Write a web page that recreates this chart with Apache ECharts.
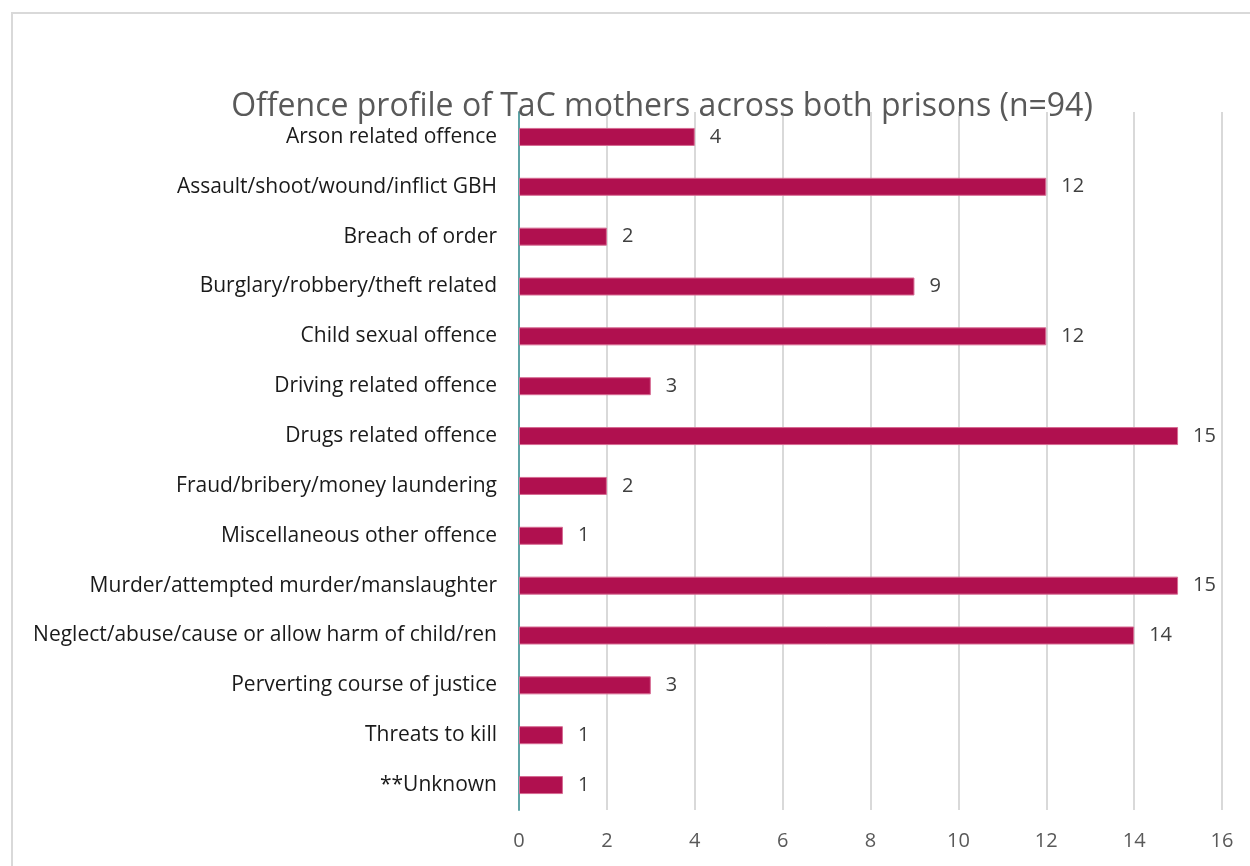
<!DOCTYPE html>
<html style="height: 100%">
<head>
    <meta charset="utf-8" />
    <title>Offence profile</title>
    <script type="text/javascript" src="https://cdn.jsdelivr.net/npm/echarts@6/dist/echarts.min.js"></script>
</head>
<body style="height: 100%; margin: 0; background: #fff">
    <div id="container" style="width: 1250px; height: 866px"></div>
</body>
</html>
<script type="text/javascript">
    // categories listed top to bottom as in the picture
    var offences = [
        'Arson related offence',
        'Assault/shoot/wound/inflict GBH',
        'Breach of order',
        'Burglary/robbery/theft related',
        'Child sexual offence',
        'Driving related offence',
        'Drugs related offence',
        'Fraud/bribery/money laundering',
        'Miscellaneous other offence',
        'Murder/attempted murder/manslaughter',
        'Neglect/abuse/cause or allow harm of child/ren',
        'Perverting course of justice',
        'Threats to kill',
        '**Unknown'
    ];
    var counts = [4, 12, 2, 9, 12, 3, 15, 2, 1, 15, 14, 3, 1, 1];

    var dom = document.getElementById("container");
    var myChart = echarts.init(dom);
    var font = 'Open Sans';

    var option = {
        backgroundColor: '#fff',
        animation: false,
        graphic: [{
            type: 'rect',
            shape: { x: 12, y: 13, width: 1260, height: 900 },
            style: { fill: 'none', stroke: '#d9d9d9', lineWidth: 2 },
            silent: true
        }],
        title: {
            text: 'Offence profile of TaC mothers across both prisons (n=94)',
            left: 657,
            top: 86,
            textAlign: 'center',
            textStyle: { fontFamily: font, fontSize: 32, fontWeight: 'normal', color: '#595959' }
        },
        grid: { left: 519, right: 28, top: 112, bottom: 56 },
        xAxis: {
            type: 'value',
            min: 0,
            max: 16,
            interval: 2,
            axisLine: { show: false },
            axisTick: { show: false },
            axisLabel: { fontFamily: font, fontSize: 20, color: '#595959', margin: 21 },
            splitLine: { lineStyle: { color: '#d9d9d9', width: 2 } }
        },
        yAxis: {
            type: 'category',
            inverse: true,
            data: offences,
            axisLine: { lineStyle: { color: '#5fa3a6', width: 2 } },
            axisTick: { show: false },
            axisLabel: { fontFamily: font, fontSize: 21, color: '#1a1a1a', margin: 22 }
        },
        series: [{
            type: 'bar',
            data: counts,
            barWidth: 18,
            itemStyle: { color: '#b0104f', borderColor: '#d66a92', borderWidth: 1 },
            label: {
                show: true,
                position: 'right',
                distance: 15,
                fontFamily: font,
                fontSize: 20,
                color: '#404040'
            }
        }]
    };
    myChart.setOption(option);
</script>
